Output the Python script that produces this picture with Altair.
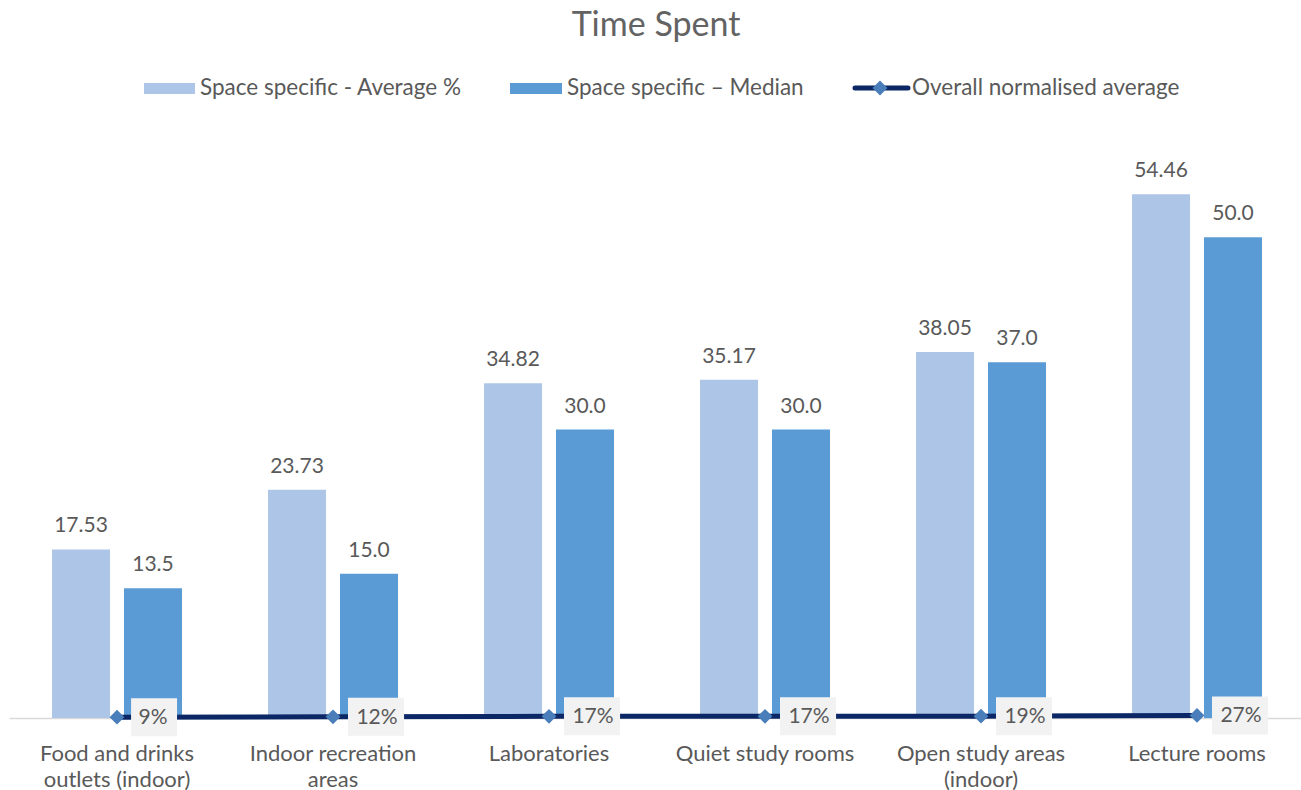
import altair as alt
import pandas as pd

# ---- data -------------------------------------------------------------
categories = [
    "Food and drinks outlets (indoor)",
    "Indoor recreation areas",
    "Laboratories",
    "Quiet study rooms",
    "Open study areas (indoor)",
    "Lecture rooms",
]
category_lines = [
    ["Food and drinks", "outlets (indoor)"],
    ["Indoor recreation", "areas"],
    ["Laboratories"],
    ["Quiet study rooms"],
    ["Open study areas", "(indoor)"],
    ["Lecture rooms"],
]
average_pct = [17.53, 23.73, 34.82, 35.17, 38.05, 54.46]
median_pct = [13.5, 15.0, 30.0, 30.0, 37.0, 50.0]
overall_normalised = [0.09, 0.12, 0.17, 0.17, 0.19, 0.27]

SERIES_AVG = "Space specific - Average %"
SERIES_MED = "Space specific \u2013 Median"
SERIES_LINE = "Overall normalised average"

# ---- styling ----------------------------------------------------------
FONT = "Lato"
TEXT = "#595959"
LIGHT = "#adc5e7"
DARK = "#5b9bd5"
NAVY = "#0b2766"
MARKER = "#4a7ebb"
BOX = "#f2f2f2"

bars = pd.DataFrame(
    [{"cat": c, "series": SERIES_AVG, "value": v, "label": f"{v:.2f}"}
     for c, v in zip(categories, average_pct)]
    + [{"cat": c, "series": SERIES_MED, "value": v, "label": f"{v:.1f}"}
       for c, v in zip(categories, median_pct)]
)
line = pd.DataFrame({
    "cat": categories,
    "value": overall_normalised,
    "label": [f"{v:.0%}" for v in overall_normalised],
})
line["digits"] = line["label"].str.len() - 1

# multi-line axis labels
label_expr = ""
for name, lines in zip(categories, category_lines):
    arr = "[" + ",".join(f"'{s}'" for s in lines) + "]"
    label_expr += f"datum.value == '{name}' ? {arr} : "
label_expr += "datum.label"

x_enc = alt.X(
    "cat:N",
    sort=categories,
    scale=alt.Scale(domain=categories, range=[0, 1296], paddingInner=0, paddingOuter=0),
    axis=alt.Axis(
        title=None, labelExpr=label_expr, ticks=False, tickSize=0,
        domainColor="#d9d9d9", domainWidth=1.5, labelAngle=0, labelLimit=0,
        labelFont=FONT, labelFontSize=22, labelColor=TEXT, labelPadding=25,
        labelLineHeight=26, labelOverlap=False,
    ),
)
y_enc = alt.Y("value:Q", scale=alt.Scale(domain=[0, 60], nice=False, zero=True), axis=None)
x_off = alt.XOffset(
    "series:N",
    sort=[SERIES_AVG, SERIES_MED],
    scale=alt.Scale(domain=[SERIES_AVG, SERIES_MED], paddingInner=0.1944, paddingOuter=0.597),
)

bar_layer = alt.Chart(bars).mark_bar().encode(
    x=x_enc, xOffset=x_off, y=y_enc,
    color=alt.Color("series:N", scale=alt.Scale(domain=[SERIES_AVG, SERIES_MED], range=[LIGHT, DARK]), legend=None),
)
bar_text = alt.Chart(bars).mark_text(
    baseline="alphabetic", dy=-17, font=FONT, fontSize=21, color=TEXT
).encode(x=x_enc, xOffset=x_off, y=y_enc, text="label:N")

line_layer = alt.Chart(line).mark_line(color=NAVY, strokeWidth=5, strokeCap="butt").encode(x=x_enc, y=y_enc)
diamonds = alt.Chart(line).mark_point(
    shape="diamond", filled=True, size=220, color=MARKER, opacity=1
).encode(x=x_enc, y=y_enc)

# value boxes to the right of each marker (path units = 19 px)
box_layers = []
for digits, path, dx in [
    (1, "M0.74,-1L3.16,-1L3.16,1L0.74,1Z", 36),
    (2, "M0.79,-1L3.74,-1L3.74,1L0.79,1Z", 44),
]:
    sub = alt.Chart(line).transform_filter(f"datum.digits == {digits}")
    box_layers.append(
        sub.mark_point(shape=path, filled=True, size=1444, color=BOX, opacity=1, strokeWidth=0)
        .encode(x=x_enc, y=y_enc)
    )
    box_layers.append(
        sub.mark_text(dx=dx, dy=1, baseline="middle", align="center", font=FONT, fontSize=21, color=TEXT)
        .encode(x=x_enc, y=y_enc, text="label:N")
    )

# ---- title and legend -------------------------------------------------
one = pd.DataFrame({"k": [0]})
title = alt.Chart(one).mark_text(
    font=FONT, fontSize=34, color="#636363", align="center", baseline="alphabetic"
).encode(x=alt.value(647), y=alt.value(-105), text=alt.value("Time Spent"))

legend_text_style = dict(font=FONT, fontSize=22.5, color=TEXT, align="left", baseline="middle")
legend = [
    alt.Chart(one).mark_rect(color=LIGHT).encode(
        x=alt.value(135), x2=alt.value(186), y=alt.value(-58), y2=alt.value(-47)),
    alt.Chart(one).mark_text(**legend_text_style).encode(
        x=alt.value(191), y=alt.value(-53), text=alt.value(SERIES_AVG)),
    alt.Chart(one).mark_rect(color=DARK).encode(
        x=alt.value(501), x2=alt.value(553), y=alt.value(-58), y2=alt.value(-47)),
    alt.Chart(one).mark_text(**legend_text_style).encode(
        x=alt.value(558), y=alt.value(-53), text=alt.value(SERIES_MED)),
    alt.Chart(one).mark_rule(color=NAVY, strokeWidth=5, strokeCap="round").encode(
        x=alt.value(846), x2=alt.value(899), y=alt.value(-53)),
    alt.Chart(one).mark_point(shape="diamond", filled=True, size=220, color=MARKER, opacity=1).encode(
        x=alt.value(871), y=alt.value(-53)),
    alt.Chart(one).mark_text(**legend_text_style).encode(
        x=alt.value(903), y=alt.value(-53), text=alt.value(SERIES_LINE)),
]

chart = alt.layer(
    bar_layer, bar_text, line_layer, diamonds, *box_layers, title, *legend
).properties(
    width=1291,
    height=577,
    autosize=alt.AutoSizeParams(type="none"),
    padding={"left": 9, "top": 141, "right": 1, "bottom": 72},
    background="white",
).configure_view(stroke=None)

chart.save("out.html", embed_options={"renderer": "svg", "actions": False})
